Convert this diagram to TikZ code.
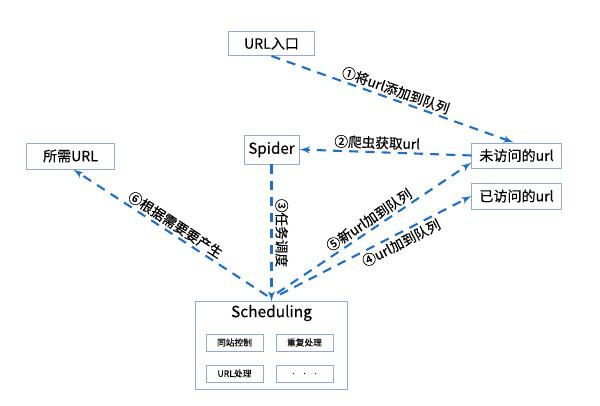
\documentclass[tikz,border=0pt]{standalone}
\usepackage{fontspec}
\setmainfont{Noto Sans CJK SC}[FakeBold=0.3]
\usetikzlibrary{positioning,arrows}
\definecolor{boxline}{HTML}{8FAADC}
\definecolor{flow}{HTML}{1F70C8}
\tikzstyle{block} = [rectangle, draw=boxline, line width=0.7pt, fill=white, inner sep=0pt, font=\fontsize{10}{12}\selectfont]
\tikzstyle{inner} = [block, minimum width=1.425cm, minimum height=0.425cm, font=\fontsize{6.2}{7}\selectfont]
\tikzstyle{line} = [draw=flow, line width=1.5pt, dash pattern=on 6.5pt off 5pt, -latex']
\tikzstyle{lbl} = [midway, sloped, inner sep=1.5pt, font=\fontsize{9.7}{11}\selectfont]

\begin{document}
\begin{tikzpicture}[x=0.025cm, y=-0.025cm]
    \useasboundingbox [fill=white] (0,0) rectangle (600,406);
    % Blocks
    \node [block, minimum width=2.125cm, minimum height=0.6cm] (entry) at (271.5,43.5) {URL入口};
    \node [block, minimum width=1.375cm, minimum height=0.725cm, font=\fontsize{10.8}{12}\selectfont] (spider) at (271.5,149.5) {Spider};
    \node [block, minimum width=2.225cm, minimum height=0.625cm] (unvis) at (516.5,155.5) {未访问的url};
    \node [block, minimum width=2.225cm, minimum height=0.65cm] (vis) at (516.5,196) {已访问的url};
    \node [block, minimum width=2.175cm, minimum height=0.65cm] (needed) at (70.5,156) {所需URL};
    % Scheduling with its parts
    \node [block, minimum width=3.775cm, minimum height=2.175cm] (sched) at (271.5,345.5) {};
    \node [font=\fontsize{11}{12}\selectfont] (schedtitle) at (271.5,313) {Scheduling};
    \node [inner] (same) at (234.5,342.5) {同站控制};
    \node [inner] (dup) at (304.5,342.5) {重复处理};
    \node [inner] (urlproc) at (234.5,373.5) {URL处理};
    \node [inner] (more) at (304.5,373.5) {.\hspace{1em}.\hspace{1em}.};
    % Lines
    \path [line] (entry.south) -- node [lbl, above] {①将url添加到队列} ([xshift=-2pt]unvis.north);
    \path [line] (unvis.west) -- node [lbl, above, pos=0.55] {②爬虫获取url} (spider.east);
    \path [line] (spider.south) -- node [lbl, above, inner sep=2pt] {③任务调度} (sched.north);
    \path [line] ([xshift=6pt,yshift=5pt]sched.north) -- node [lbl, below, pos=0.61] {④url加到队列} (vis.west);
    \path [line] ([xshift=4pt,yshift=6pt]sched.north) -- node [lbl, above, pos=0.5] {⑤新url加到队列} ([yshift=-5pt]unvis.west);
    \path [line] ([xshift=-3pt,yshift=4pt]sched.north) -- node [lbl, above] {⑥根据需要要产生} ([xshift=2pt]needed.south);
\end{tikzpicture}
\end{document}
